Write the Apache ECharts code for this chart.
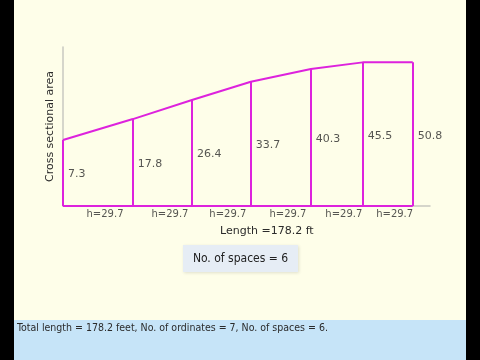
<!DOCTYPE html>
<html>
<head>
<meta charset="utf-8">
<script src="https://cdn.jsdelivr.net/npm/echarts@6/dist/echarts.min.js"></script>
<style>
html,body{margin:0;padding:0;background:#000;}
#c{width:480px;height:360px;}
</style>
</head>
<body>
<div id="c"></div>
<script>
// Ordinate positions along the length (ft, as drawn) and drawn curve heights (schematic units)
var ordinateX = [0, 35.6, 65.7, 95.7, 126.3, 152.7, 178.2];
var curveHeight = [24.9, 32.8, 40.0, 46.9, 51.7, 54.2, 54.2];
// Cross sectional area values written at each ordinate
var ordinateValues = ['7.3', '17.8', '26.4', '33.7', '40.3', '45.5', '50.8'];
// Space labels ("h = common interval") and where they sit along the length
var spaceLabels = ['h=29.7', 'h=29.7', 'h=29.7', 'h=29.7', 'h=29.7', 'h=29.7'];
var spaceLabelX = [21.4, 54.5, 84.0, 114.6, 143.1, 169.0];
var totalLength = 178.2;
var xAxisTitle = 'Length =178.2 ft';
var yAxisTitle = 'Cross sectional area';
var boxText = 'No. of spaces = 6';
var footerText = 'Total length = 178.2 feet, No. of ordinates = 7, No. of spaces = 6.';

var MAG = '#dd22dd';
var TXT = '#2b2b2b';
var chart = echarts.init(document.getElementById('c'), null, {renderer: 'canvas'});

var curveData = ordinateX.map(function (x, i) { return [x, curveHeight[i]]; });
var ordLines = ordinateX.map(function (x, i) {
  return [{coord: [x, 0]}, {coord: [x, curveHeight[i]]}];
});
var valueLabelData = ordinateX.map(function (x, i) {
  return {value: [x, curveHeight[i] / 2], label: {formatter: ordinateValues[i]}};
});
var spaceLabelData = spaceLabelX.map(function (x, i) {
  return {value: [x, 0], label: {formatter: spaceLabels[i]}};
});

chart.setOption({
  backgroundColor: '#fefee9',
  animation: false,
  grid: {left: 63, right: 50, top: 47, bottom: 154},
  xAxis: {
    type: 'value', min: 0, max: 187,
    axisLine: {show: true, lineStyle: {color: '#c8c8c0', width: 1.5}},
    axisTick: {show: false}, axisLabel: {show: false}, splitLine: {show: false}
  },
  yAxis: {
    type: 'value', min: 0, max: 60,
    name: yAxisTitle, nameLocation: 'middle', nameGap: 7,
    nameTextStyle: {fontFamily: 'DejaVu Sans', fontSize: 11, color: TXT},
    axisLine: {show: true, lineStyle: {color: '#c8c8c0', width: 1.5}},
    axisTick: {show: false}, axisLabel: {show: false}, splitLine: {show: false}
  },
  series: [
    {
      type: 'line', data: [[0, 0], [totalLength, 0]], symbol: 'none',
      lineStyle: {color: MAG, width: 2}, z: 3
    },
    {
      type: 'line', data: curveData, symbol: 'none', smooth: false,
      lineStyle: {color: MAG, width: 2}, z: 3,
      markLine: {
        silent: true, symbol: ['none', 'none'], label: {show: false},
        lineStyle: {color: MAG, width: 2, type: 'solid'},
        data: ordLines
      }
    },
    {
      type: 'scatter', data: valueLabelData, symbolSize: 0,
      label: {show: true, position: 'right', distance: 5, offset: [0, 1.5],
        fontFamily: 'DejaVu Sans', fontSize: 11, color: TXT}
    },
    {
      type: 'scatter', data: spaceLabelData, symbolSize: 0,
      label: {show: true, position: 'bottom', distance: 3,
        fontFamily: 'DejaVu Sans', fontSize: 10, color: TXT}
    }
  ],
  graphic: [
    {type: 'text', left: 220, top: 226, style: {text: xAxisTitle, fontFamily: 'DejaVu Sans', fontSize: 11, fill: TXT}},
    {type: 'rect', shape: {x: 183, y: 245, width: 115, height: 27},
      style: {fill: '#e6edf5', shadowBlur: 3, shadowColor: 'rgba(0,0,0,0.12)', shadowOffsetX: 1, shadowOffsetY: 1}},
    {type: 'text', x: 240.5, y: 258.5, style: {text: boxText, fontFamily: "'DejaVu Sans Condensed', 'DejaVu Sans'", fontSize: 12, fill: '#222', align: 'center', verticalAlign: 'middle'}},
    {type: 'rect', shape: {x: 14, y: 320, width: 452, height: 40}, style: {fill: '#c6e4f8'}},
    {type: 'text', x: 17, y: 328.5, style: {text: footerText, fontFamily: "'DejaVu Sans Condensed', 'DejaVu Sans'", fontSize: 10.5, fill: TXT, verticalAlign: 'middle'}},
    {type: 'rect', shape: {x: 0, y: 0, width: 14, height: 360}, style: {fill: '#000'}, z: 100},
    {type: 'rect', shape: {x: 466, y: 0, width: 14, height: 360}, style: {fill: '#000'}, z: 100}
  ]
});
</script>
</body>
</html>
